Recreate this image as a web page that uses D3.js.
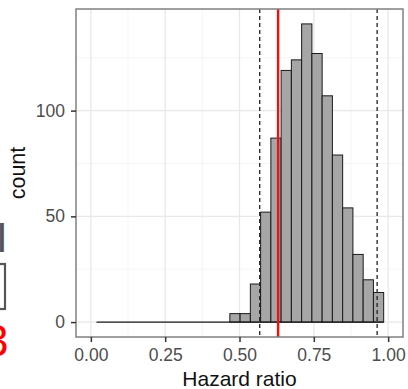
<!DOCTYPE html>
<html>
<head>
<meta charset="utf-8">
<script src="https://cdn.jsdelivr.net/npm/d3@7"></script>
<style>
  body { margin: 0; background: #fff; }
  svg { display: block; font-family: "Liberation Sans", Arial, sans-serif; }
</style>
</head>
<body>
<svg id="hist" width="408" height="389"></svg>
<script>
// histogram bins (hazard ratio), 28 bins starting at binStart
const binStart = 0.019;
const binWidth = 0.0345;
const counts = [0, 0, 0, 0, 0, 0, 0, 0, 0, 0, 0, 0, 0,
                4, 4, 18, 52, 87, 119, 124, 141, 127, 107, 79, 54, 32, 20, 14];
const dashedLines = [0.568, 0.963];
const redLine = [0.630];
const xTicks = [0, 0.25, 0.5, 0.75, 1];
const yTicks = [0, 50, 100];

const svg = d3.select("#hist");
const margin = {top: 9, right: 5, left: 76, bottom: 52};
const width = 408 - margin.left - margin.right;
const height = 389 - margin.top - margin.bottom;
const g = svg.append("g")
    .attr("transform", `translate(${margin.left}, ${margin.top})`);

const bins = counts.map((c, i) => ({x0: binStart + i * binWidth, x1: binStart + (i + 1) * binWidth, n: c}));

// scales, ggplot-like 5% expansion
const xScale = d3.scaleLinear().domain([-0.05, 1.05]).range([0, width]);
const yMax = d3.max(counts);
const yScale = d3.scaleLinear().domain([-0.05 * yMax, 1.05 * yMax]).range([height, 0]);

// grid, minor then major
const xMinor = [0.125, 0.375, 0.625, 0.875];
const yMinor = [25, 75, 125];
g.append("g").attr("class", "grid").selectAll("line").data(xMinor).enter().append("line")
    .attr("x1", d => xScale(d)).attr("x2", d => xScale(d))
    .attr("y1", 0).attr("y2", height)
    .attr("stroke", "#f0f0f0").attr("stroke-width", 0.7);
g.append("g").attr("class", "grid").selectAll("line").data(yMinor).enter().append("line")
    .attr("y1", d => yScale(d)).attr("y2", d => yScale(d))
    .attr("x1", 0).attr("x2", width)
    .attr("stroke", "#f0f0f0").attr("stroke-width", 0.7);
g.append("g").attr("class", "grid").selectAll("line").data(xTicks).enter().append("line")
    .attr("x1", d => xScale(d)).attr("x2", d => xScale(d))
    .attr("y1", 0).attr("y2", height)
    .attr("stroke", "#e8e8e8").attr("stroke-width", 1.3);
g.append("g").attr("class", "grid").selectAll("line").data(yTicks).enter().append("line")
    .attr("y1", d => yScale(d)).attr("y2", d => yScale(d))
    .attr("x1", 0).attr("x2", width)
    .attr("stroke", "#e8e8e8").attr("stroke-width", 1.3);

// bars
g.selectAll("rect.bar").data(bins).enter().append("rect")
    .attr("class", "bar")
    .attr("x", d => xScale(d.x0))
    .attr("width", d => xScale(d.x1) - xScale(d.x0))
    .attr("y", d => yScale(d.n))
    .attr("height", d => yScale(0) - yScale(d.n))
    .attr("fill", "#a6a6a6")
    .attr("stroke", "#1a1a1a")
    .attr("stroke-width", 1);
// zero-height bins show as a baseline
g.append("line")
    .attr("x1", xScale(bins[0].x0)).attr("x2", xScale(bins[bins.length - 1].x1))
    .attr("y1", yScale(0)).attr("y2", yScale(0))
    .attr("stroke", "#1a1a1a").attr("stroke-width", 1.2);

// reference lines
g.selectAll("line.dash").data(dashedLines).enter().append("line")
    .attr("class", "dash")
    .attr("x1", d => xScale(d)).attr("x2", d => xScale(d))
    .attr("y1", 0).attr("y2", height)
    .attr("stroke", "#222").attr("stroke-width", 1.3)
    .attr("stroke-dasharray", "4,3");
g.selectAll("line.red").data(redLine).enter().append("line")
    .attr("class", "red")
    .attr("x1", d => xScale(d)).attr("x2", d => xScale(d))
    .attr("y1", 0).attr("y2", height)
    .attr("stroke", "#f01010").attr("stroke-width", 2.4);

// panel border
g.append("rect")
    .attr("x", 0).attr("y", 0).attr("width", width).attr("height", height)
    .attr("fill", "none").attr("stroke", "#808080").attr("stroke-width", 1.5);

// axes
const xAxis = d3.axisBottom(xScale).tickValues(xTicks).tickFormat(d3.format(".2f")).tickSize(5).tickPadding(7);
const yAxis = d3.axisLeft(yScale).tickValues(yTicks).tickSize(5).tickPadding(6);
const xAxisG = g.append("g").attr("class", "axis").attr("transform", `translate(0, ${height})`).call(xAxis);
const yAxisG = g.append("g").attr("class", "axis").call(yAxis);
[xAxisG, yAxisG].forEach(a => {
    a.select(".domain").remove();
    a.selectAll(".tick line").attr("stroke", "#333").attr("stroke-width", 1.5);
    a.selectAll(".tick text").attr("fill", "#4d4d4d").style("font-size", "17.5px");
});

// axis titles
g.append("text")
    .attr("x", width / 2).attr("y", height + 49)
    .attr("text-anchor", "middle")
    .style("font-size", "21px").attr("fill", "#111")
    .text("Hazard ratio");
g.append("text")
    .attr("transform", `translate(${-margin.left + 25}, ${height / 2}) rotate(-90)`)
    .attr("text-anchor", "middle")
    .style("font-size", "21.5px").attr("fill", "#111")
    .text("count");

// cropped fragments of a neighbouring panel at the left edge
svg.append("text").attr("x", -4).attr("y", 252).style("font-size", "42px")
    .attr("fill", "#555").text("I");
svg.append("rect").attr("x", -10).attr("y", 264).attr("width", 15).attr("height", 45)
    .attr("fill", "none").attr("stroke", "#555").attr("stroke-width", 2.2);
svg.append("text").attr("x", -16).attr("y", 356).style("font-size", "44px")
    .attr("fill", "#ff0000").text("3");
</script>
</body>
</html>
